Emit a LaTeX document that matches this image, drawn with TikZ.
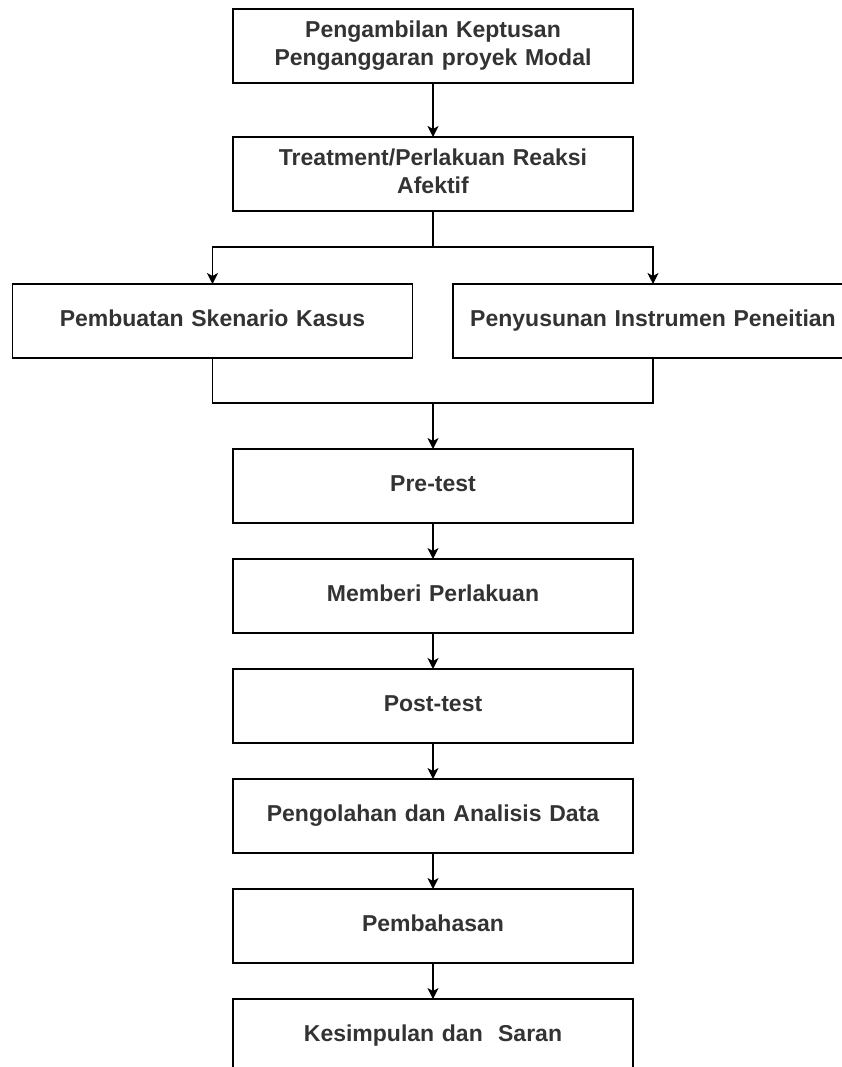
\documentclass[tikz,border=0pt]{standalone}
\usepackage{fontspec}
\setmainfont{Liberation Sans}
\usetikzlibrary{positioning,arrows.meta}

\tikzset{
    box/.style={draw, line width=1.3pt, minimum width=400pt, minimum height=74pt,
        text width=390pt, align=center, inner sep=0pt, outer sep=0pt,
        font=\bfseries\fontsize{23}{28}\selectfont, text=black!80,
        execute at begin node={\strut}, execute at end node={\strut}},
    arr/.style={-{Stealth[length=11pt,width=11pt,inset=3pt]}, line width=1.3pt},
    link/.style={line width=1.3pt}
}

\begin{document}
\begin{tikzpicture}[x=1pt,y=1pt]
    % page frame
    \useasboundingbox (0,0) rectangle (842,-1067);

    % top of the column
    \node[box] (keputusan) at (433,-46) {Pengambilan Keptusan\\Penganggaran proyek Modal};
    \node[box, below=54pt of keputusan] (treatment) {Treatment/Perlakuan Reaksi\\Afektif};

    % two branches
    \node[box] (skenario) at (212.5,-321) {Pembuatan Skenario Kasus};
    \node[box] (instrumen) at (653,-321) {Penyusunan Instrumen Peneitian};
    \coordinate (split) at (433,-247);
    \coordinate (merge) at (433,-403);

    % rest of the column
    \node[box] (pretest) at (433,-486) {Pre-test};
    \node[box, below=36pt of pretest] (perlakuan) {Memberi Perlakuan};
    \node[box, below=36pt of perlakuan] (posttest) {Post-test};
    \node[box, below=36pt of posttest] (analisis) {Pengolahan dan Analisis Data};
    \node[box, below=36pt of analisis] (pembahasan) {Pembahasan};
    \node[box, below=36pt of pembahasan] (kesimpulan) {Kesimpulan dan~~Saran};

    % connectors
    \draw[arr] (keputusan) -- (treatment);
    \draw[link] (treatment.south) -- (split);
    \draw[arr] (split) -| (skenario);
    \draw[arr] (split) -| (instrumen);
    \draw[link] (skenario.south) |- (merge);
    \draw[link] (instrumen.south) |- (merge);
    \draw[arr] (merge) -- (pretest);
    \foreach \a/\b in {pretest/perlakuan, perlakuan/posttest, posttest/analisis,
        analisis/pembahasan, pembahasan/kesimpulan}
        \draw[arr] (\a) -- (\b);
\end{tikzpicture}
\end{document}
